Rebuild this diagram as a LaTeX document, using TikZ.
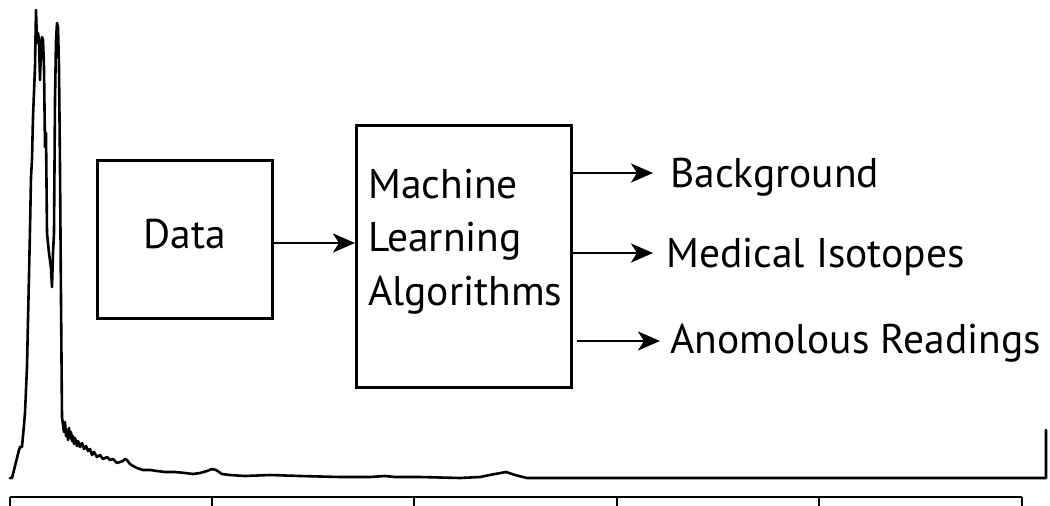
\documentclass[tikz,border=0pt]{standalone}
\usepackage{fontspec}
\setmainfont{PT Sans}
\usetikzlibrary{arrows.meta}
\begin{document}
\begin{tikzpicture}[x=1pt,y=-1pt,
  box/.style={draw,line width=3pt,inner sep=0pt},
  lbl/.style={inner sep=0pt,anchor=base west,font=\fontsize{41.5}{50}\selectfont},
  arr/.style={line width=2.8pt,-{Stealth[length=22pt,width=19pt,inset=6pt]}},
  curve/.style={line width=2.6pt,line join=round,line cap=round}]
\useasboundingbox (0,0) rectangle (1050,506);
% boxes
\node[box,minimum width=175pt,minimum height=158pt] (data) at (184.5,239) {};
\node[box,minimum width=215pt,minimum height=262pt] (ml) at (463.5,256) {};
% texts
\node[lbl,anchor=base] (datatxt) at (185,248) {Data};
\node[lbl] (ml1) at (368,198) {Machine};
\node[lbl] (ml2) at (368,251) {Learning};
\node[lbl] (ml3) at (368,305) {Algorithms};
\node[lbl] (bg) at (670,187) {Background};
\node[lbl] (med) at (666,267) {Medical Isotopes};
\node[lbl] (ano) at (670,353) {Anomolous Readings};
% arrow tips
\coordinate (t0) at (355,243);
\coordinate (t1) at (653,173);
\coordinate (t2) at (653,253);
\coordinate (t3) at (660,341);
\draw[arr] (data.east |- t0) -- (t0);
\draw[arr] (ml.east |- t1) -- (t1);
\draw[arr] (ml.east |- t2) -- (t2);
\draw[arr] ([xshift=4pt]ml.east |- t3) -- (t3);
% spectrum
\draw[curve] plot coordinates {(10,478) (12,478) (15,466) (17,458) (19,450) (20,447) (22,447) (24,425) (25,413) (27,367) (28,320) (30,230) (31,177) (32,160) (33,117) (35,67) (36,10) (37,43) (38,33) (39,40) (40,80) (41,50) (42,37) (43,40) (44,67) (45,147) (46,133) (47,233) (49,253) (51,268) (52,287) (53,253) (54,233) (55,100) (56,40) (57,23) (58,27) (59,67) (60,167) (61,300) (62,417) (63,425) (64,432) (65,422) (66,436) (67,430) (68,440) (69,428) (70,438) (71,432) (72,441) (73,436) (74,444) (75,438) (77,446) (78,441) (80,447) (82,443) (84,449) (86,446) (88,451) (90,449) (92,455) (94,452) (97,457) (100,455) (103,459) (107,457) (110,460) (113,459) (117,463) (120,462) (123,461) (125,459) (127,460) (130,464) (133,466) (137,468) (140,469) (143,470) (150,470) (157,471) (165,472) (175,472) (185,473) (193,474) (200,473) (207,471) (212,469) (216,470) (222,474) (230,475) (245,476) (270,475) (300,476) (340,477) (370,477) (385,476) (395,477) (420,477) (460,478) (480,477) (495,474) (506,472) (515,475) (527,478) (560,478) (700,478) (900,478) (1046,478) (1046,430)};
% axis
\draw[line width=2.6pt] (10,497) -- (1022,497);
\foreach \x in {10,212,414,617,819,1022} \draw[line width=2.6pt] (\x,497) -- (\x,506);
\end{tikzpicture}
\end{document}
